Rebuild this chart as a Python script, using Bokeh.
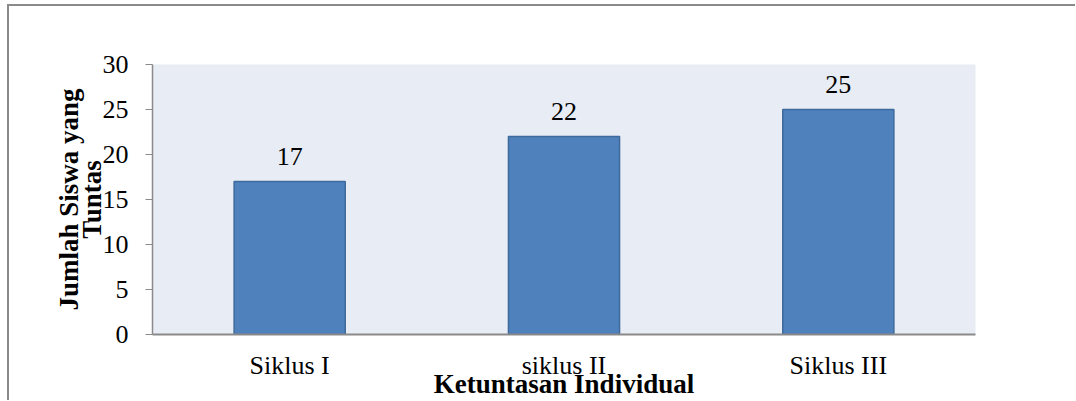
from bokeh.plotting import figure
from bokeh.models import ColumnDataSource, LabelSet, FixedTicker
from bokeh.embed import file_html
from bokeh.resources import INLINE

categories = ["Siklus I", "siklus II", "Siklus III"]
values = [17, 22, 25]
value_labels = ["17", "22", "25"]
y_ticks = [0, 5, 10, 15, 20, 25, 30]
x_title = "Ketuntasan Individual"
y_title = "Jumlah Siswa yang\nTuntas"

FONT = "Liberation Serif"
FS = "26px"
TFS = "27px"

source = ColumnDataSource(dict(cat=categories, val=values, lbl=value_labels))

p = figure(
    x_range=categories, y_range=(0, 30),
    width=1068, height=396,
    output_backend="svg", toolbar_location=None,
    min_border_left=143, min_border_right=102,
    min_border_top=58, min_border_bottom=68,
    background_fill_color="#E8ECF4",
    border_fill_color="white",
)
p.styles = {
    "margin-left": "7px", "margin-top": "4px",
    "border-left": "2px solid #8a8a8a", "border-top": "2px solid #8a8a8a",
}
p.outline_line_color = None
p.grid.visible = False

p.vbar(x="cat", top="val", width=0.405, source=source,
       fill_color="#4F81BD", line_color="#3E6A9C", line_width=1.5)

labels = LabelSet(x="cat", y="val", text="lbl", source=source,
                  y_offset=17, text_align="center", text_baseline="alphabetic",
                  text_font=FONT, text_font_size=FS, text_color="black")
p.add_layout(labels)

# y axis
p.yaxis.ticker = FixedTicker(ticks=y_ticks)
p.yaxis.minor_tick_line_color = None
p.yaxis.major_tick_out = 7
p.yaxis.major_tick_in = 0
p.yaxis.major_label_standoff = 17
p.yaxis.axis_line_color = "#8a8a8a"
p.yaxis.axis_line_width = 1.5
p.yaxis.major_tick_line_color = "#8a8a8a"
p.yaxis.major_label_text_font = FONT
p.yaxis.major_label_text_font_size = FS
p.yaxis.major_label_text_color = "black"
p.yaxis.axis_label = y_title
p.yaxis.axis_label_text_font = FONT
p.yaxis.axis_label_text_font_size = TFS
p.yaxis.axis_label_text_font_style = "bold"
p.yaxis.axis_label_text_color = "black"
p.yaxis.axis_label_text_line_height = 0.75
p.yaxis.axis_label_standoff = -7

# x axis
p.xaxis.major_tick_out = 0
p.xaxis.major_tick_in = 0
p.xaxis.major_tick_line_color = None
p.xaxis.major_label_standoff = 16
p.xaxis.axis_line_color = "#8a8a8a"
p.xaxis.axis_line_width = 2
p.xaxis.major_label_text_font = FONT
p.xaxis.major_label_text_font_size = FS
p.xaxis.major_label_text_color = "black"
p.xaxis.axis_label = x_title
p.xaxis.axis_label_text_font = FONT
p.xaxis.axis_label_text_font_size = TFS
p.xaxis.axis_label_text_font_style = "bold"
p.xaxis.axis_label_text_color = "black"
p.xaxis.axis_label_standoff = -14

open("out.html", "w").write(file_html(p, INLINE))
